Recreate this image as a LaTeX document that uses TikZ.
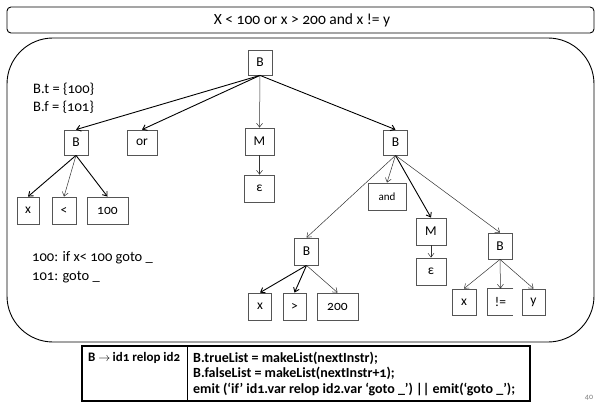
\documentclass[tikz,border=0pt]{standalone}
\usepackage{fontspec}
\setmainfont{Carlito}[Numbers=OldStyle]
\usetikzlibrary{arrows.meta}
\definecolor{boxgray}{HTML}{555555}
\definecolor{edgegray}{HTML}{333333}
\begin{document}
\begin{tikzpicture}[x=1pt,y=-1pt,
  tnode/.style={draw=boxgray, line width=0.8pt, inner sep=0pt, minimum height=26pt,
    font=\fontsize{13.5}{15}\selectfont},
  lbl/.style={inner sep=0pt, anchor=west, font=\fontsize{14.5}{16}\selectfont},
  rule/.style={inner sep=0pt, anchor=west, font=\bfseries\fontsize{14}{15}\selectfont},
  tedge/.style={draw=edgegray, line width=0.5pt, -{Straight Barb[length=4pt,width=6pt]}},
  thick edge/.style={tedge, line width=0.9pt, draw=black},
]
\useasboundingbox (0,0) rectangle (605,406);

% frames
\draw[line width=0.9pt, rounded corners=4pt] (7,7) rectangle (594,33);
\node[font=\fontsize{15.5}{17}\selectfont] (title) at (302,20) {X < 100 or x > 200 and x != y};
\draw[line width=0.9pt, rounded corners=46pt] (7,38) rectangle (594,342);

% parse tree nodes
\node[tnode, minimum width=24pt, minimum height=25pt] (root) at (260,62.5) {B};
\node[tnode, minimum width=24pt, minimum height=25pt] (bl) at (76,142.5) {B};
\node[tnode, minimum width=30pt, minimum height=25pt] (or) at (142,142.5) {or};
\node[tnode, minimum width=29pt, minimum height=27pt] (m1) at (259.5,141.5) {M};
\node[tnode, minimum width=24pt, minimum height=25pt] (br) at (395.5,142.5) {B};
\node[tnode, minimum width=30pt, minimum height=27pt] (e1) at (259.5,188.5) {ε};
\node[tnode, minimum width=22pt, minimum height=27pt] (xa) at (28,210.5) {x};
\node[tnode, minimum width=24pt, minimum height=27pt] (lt) at (64,210.5) {<};
\node[tnode, minimum width=41pt, minimum height=27pt] (na) at (107.5,210.5) {100};
\node[tnode, minimum width=38pt, minimum height=27pt, font=\fontsize{11}{12}\selectfont] (and) at (387,196.5) {and};
\node[tnode, minimum width=30pt, minimum height=27pt] (m2) at (431,231.5) {M};
\node[tnode, minimum width=30pt, minimum height=27pt] (e2) at (431,271.5) {ε};
\node[tnode, minimum width=24pt, minimum height=27pt] (bll) at (306.5,251.5) {B};
\node[tnode, minimum width=24pt, minimum height=26pt] (blr) at (500,246) {B};
\node[tnode, minimum width=23pt, minimum height=27pt] (xb) at (260,306.5) {x};
\node[tnode, minimum width=23pt, minimum height=27pt] (gt) at (294.5,306.5) {>};
\node[tnode, minimum width=41pt, minimum height=27pt] (nb) at (337.5,306.5) {200};
\node[tnode, minimum width=24pt, minimum height=26pt] (xc) at (464,302) {x};
\node[tnode, draw=none, minimum width=25pt, minimum height=26pt] (ne) at (500.5,302) {!=};
\draw[boxgray, line width=0.8pt] (ne.north east) -- (ne.north west) -- (ne.south west) -- (ne.south east);
\node[tnode, minimum width=23pt, minimum height=26pt] (yc) at (533.5,302) {y};

% annotations
\node[lbl] (bt) at (33,89) {B.t = \{100\}};
\node[lbl] (bf) at (33,107) {B.f = \{101\}};
\node[lbl] (c1) at (32,258) {100: if x< 100 goto \_};
\node[lbl] (c2) at (32,277) {101: goto \_};

% edges
\draw[thick edge] (root.south) -- (bl.north);
\draw[thick edge] (root.south) -- (or.north);
\draw[tedge] (root.south) -- (m1.north);
\draw[thick edge] (root.south) -- (br.north);
\draw[tedge] (m1.south) -- (e1.north);
\draw[thick edge] (bl.south) -- (xa.north);
\draw[tedge] (bl.south) -- (lt.north);
\draw[thick edge] (bl.south) -- (na.north);
\draw[tedge] (br.south) -- (bll.north);
\draw[tedge] (br.south) -- (and.north);
\draw[thick edge] (br.south) -- (m2.north);
\draw[tedge] (br.south) -- (blr.north);
\draw[tedge] (m2.south) -- (e2.north);
\draw[thick edge] (bll.south) -- (xb.north);
\draw[thick edge] (bll.south) -- (gt.north);
\draw[tedge] (bll.south) -- (nb.north);
\draw[tedge] (blr.south) -- (xc.north);
\draw[tedge] (blr.south) -- (ne.north);
\draw[tedge] (blr.south) -- (yc.north);

% semantic rule table
\draw[line width=1.4pt] (82,346) rectangle (530,401);
\draw[line width=0.9pt] (187,346) -- (187,401);
\node[rule, font=\bfseries\fontsize{13}{15}\selectfont] (prod) at (88,358)
  {B \ensuremath{\rightarrow}\,id1 relop id2};
\node[rule] (r1) at (193,358) {B.trueList = makeList(nextInstr);};
\node[rule] (r2) at (193,373.5) {B.falseList = makeList(nextInstr+1);};
\node[rule] (r3) at (193,389) {emit (‘if’ id1.var relop id2.var ‘goto \_’) || emit(‘goto \_’);};

% slide number
\node[font=\fontsize{8}{9}\selectfont, text=gray] (pg) at (589,398) {40};
\end{tikzpicture}
\end{document}
